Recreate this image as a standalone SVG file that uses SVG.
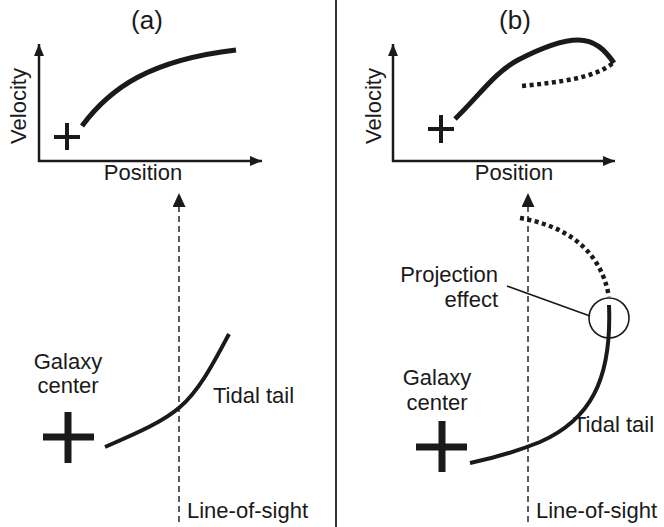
<svg xmlns="http://www.w3.org/2000/svg" width="664" height="527" viewBox="0 0 664 527">
<style>
text{font-family:"Liberation Sans",Arial,sans-serif;font-size:22px;fill:#1a1a1a}
.title{font-size:26px}
.axis{stroke:#1a1a1a;stroke-width:2.5;fill:none}
.curve{stroke:#1a1a1a;stroke-width:5;fill:none;stroke-linecap:butt}
.thin{stroke:#1a1a1a;stroke-width:4;fill:none}
.dots{stroke:#1a1a1a;stroke-width:4.5;fill:none;stroke-dasharray:4 3.5}
.los{stroke:#333;stroke-width:1.6;fill:none;stroke-dasharray:6 4}
.plus-s{stroke:#1a1a1a;stroke-width:4}
.plus-b{stroke:#1a1a1a;stroke-width:7}
.lead{stroke:#1a1a1a;stroke-width:1.6;fill:none}
.head{fill:#1a1a1a}
</style>
<defs>
<marker id="ah" markerUnits="userSpaceOnUse" markerWidth="14" markerHeight="12" refX="12" refY="5" orient="auto">
<path d="M0,0 L12,5 L0,10 Z" class="head"/>
</marker>
<marker id="ahL" markerUnits="userSpaceOnUse" markerWidth="16" markerHeight="14" refX="14" refY="6.5" orient="auto">
<path d="M0,0 L14,6.5 L0,13 Z" class="head"/>
</marker>
</defs>

<line x1="336" y1="0" x2="336" y2="527" stroke="#333" stroke-width="2"/>

<g id="panel-a-plot">
<text class="title" x="147" y="29" text-anchor="middle">(a)</text>
<line class="axis" x1="39" y1="162" x2="39" y2="44" marker-end="url(#ah)"/>
<line class="axis" x1="38" y1="161" x2="262" y2="161" marker-end="url(#ah)"/>
<text transform="translate(26,106) rotate(-90)" text-anchor="middle">Velocity</text>
<text x="143" y="180" text-anchor="middle">Position</text>
<path class="plus-s" d="M54,137 H80 M67,123 V150"/>
<path class="curve" d="M82,126 C110,88 150,60 236,50"/>
</g>

<g id="panel-b-plot">
<text class="title" x="515" y="29" text-anchor="middle">(b)</text>
<line class="axis" x1="393" y1="162" x2="393" y2="44" marker-end="url(#ah)"/>
<line class="axis" x1="392" y1="161" x2="615" y2="161" marker-end="url(#ah)"/>
<text transform="translate(381,106) rotate(-90)" text-anchor="middle">Velocity</text>
<text x="514" y="180" text-anchor="middle">Position</text>
<path class="plus-s" d="M428,129 H454 M441,115 V143"/>
<path class="curve" d="M455,119 C478,97 495,72 518,60 C545,46 565,40 578,40 C595,40 605,50 614,63"/>
<path class="dots" d="M522,86 C560,82 595,78 613,63"/>
</g>

<g id="connectors">
<line class="los" x1="179" y1="522" x2="179" y2="193" marker-end="url(#ahL)"/>
<line class="los" x1="528" y1="522" x2="528" y2="193" marker-end="url(#ahL)"/>
<line class="lead" x1="507" y1="286" x2="590" y2="316"/>
</g>

<g id="panel-a-sky">
<path class="plus-b" d="M43,437 H94 M68,412 V463"/>
<text x="68" y="369" text-anchor="middle">Galaxy</text>
<text x="68" y="393" text-anchor="middle">center</text>
<path class="thin" d="M105,447 C130,436 162,423 180,407 C200,390 215,360 229,334"/>
<text x="213" y="403">Tidal tail</text>
<text x="187" y="518">Line-of-sight</text>
</g>

<g id="panel-b-sky">
<path class="plus-b" d="M416,447 H467 M442,421 V472"/>
<text x="437" y="385" text-anchor="middle">Galaxy</text>
<text x="437" y="410" text-anchor="middle">center</text>
<path class="dots" d="M520,218 C560,225 600,245 609,297"/>
<path class="thin" d="M609,305 C612,380 590,420 540,442 C515,452 495,458 470,463"/>
<circle cx="609" cy="318" r="20" fill="none" stroke="#1a1a1a" stroke-width="1.6"/>
<text x="498" y="282" text-anchor="end">Projection</text>
<text x="498" y="307" text-anchor="end">effect</text>
<text x="573" y="432">Tidal tail</text>
<text x="536" y="518">Line-of-sight</text>
</g>
</svg>
